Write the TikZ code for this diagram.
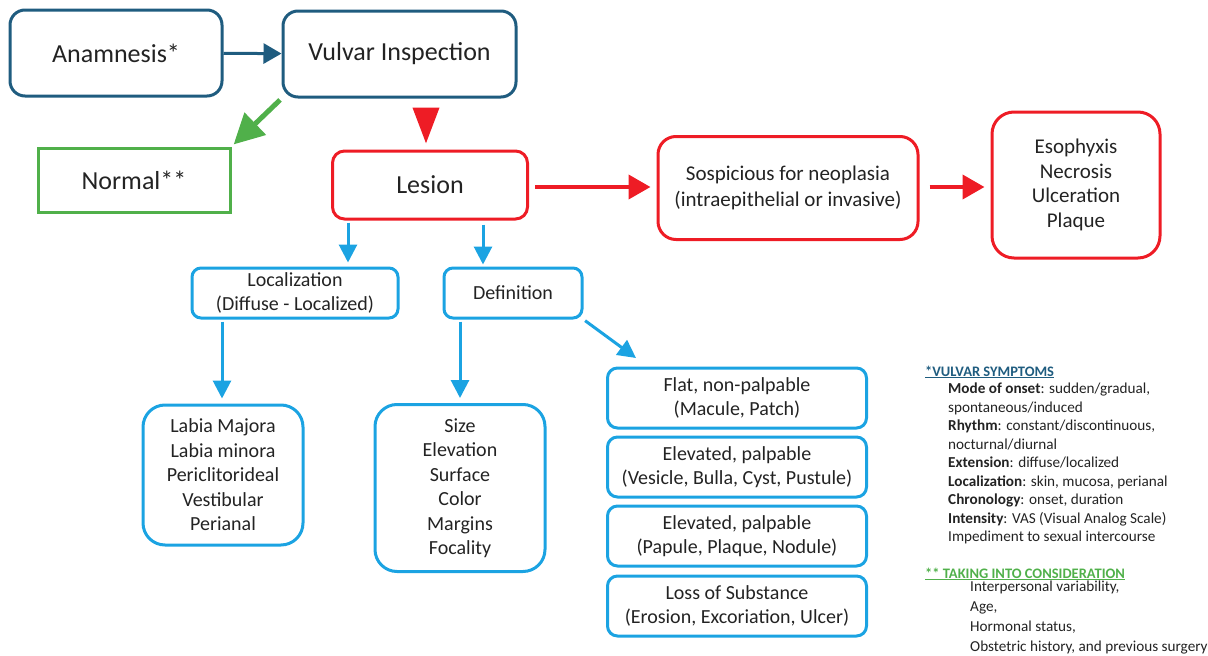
\documentclass[tikz,border=0pt]{standalone}
\usepackage{fontspec}
\setmainfont{Carlito}
\usetikzlibrary{arrows.meta}

\definecolor{inkblue}{RGB}{31,92,127}
\definecolor{okgreen}{RGB}{80,176,74}
\definecolor{alertred}{RGB}{238,28,37}
\definecolor{skyblue}{RGB}{27,163,226}
\definecolor{textgray}{RGB}{35,35,35}

\tikzset{
  box/.style={draw, line width=3pt, align=center, text=textgray, inner sep=0pt},
  bigfont/.style={font=\fontsize{26}{30}\selectfont},
  midfont/.style={font=\fontsize{21}{26}\selectfont},
  smallfont/.style={font=\fontsize{20}{24.5}\selectfont},
  notefont/.style={font=\fontsize{15.2}{18.5}\selectfont},
  headfont/.style={font=\fontsize{14.5}{18.5}\selectfont\bfseries},
  darkarrow/.style={inkblue, line width=3pt, -{Triangle[length=18pt,width=20pt]}},
  greenarrow/.style={okgreen, line width=5pt, -{Triangle[length=30pt,width=30pt]}},
  redarrow/.style={alertred, line width=4pt, -{Triangle[length=22pt,width=24pt]}},
  bluearrow/.style={skyblue, line width=3pt, -{Triangle[length=18pt,width=18pt]}},
}

\begin{document}
\begin{tikzpicture}[x=1pt, y=-1pt]
    \useasboundingbox (0,0) rectangle (1208,656);

    % top row
    \node[box, bigfont, draw=inkblue, rounded corners=15pt, minimum width=212pt, minimum height=86pt] (anam) at (116,53) {Anamnesis*};
    \node[box, bigfont, draw=inkblue, rounded corners=15pt, minimum width=233pt, minimum height=86pt] (vulv) at (399.5,54) {Vulvar Inspection};
    \draw[darkarrow] (anam) -- (vulv);

    \node[box, bigfont, draw=okgreen, minimum width=192pt, minimum height=64pt] (normal) at (134,180) {Normal**};
    \draw[greenarrow, shorten <=2pt, shorten >=3pt] (vulv.south west) -- (normal.north east);

    % lesion branch
    \node[box, bigfont, draw=alertred, rounded corners=12pt, minimum width=195pt, minimum height=68pt] (lesion) at (430,185) {Lesion};
    \draw[alertred, line width=4pt, -{Triangle[length=36pt,width=26pt]}, shorten <=10pt, shorten >=6pt] (vulv.south -| 426,0) -- (lesion.north -| 426,0);

    \node[box, midfont, draw=alertred, rounded corners=18pt, minimum width=260pt, minimum height=103pt] (susp) at (788,188) {Sospicious for neoplasia\\(intraepithelial or invasive)};
    \node[box, font=\fontsize{21}{24.7}\selectfont, draw=alertred, rounded corners=22pt, minimum width=168pt, minimum height=146pt] (signs) at (1076,185) {Esophyxis\\Necrosis\\Ulceration\\Plaque};
    \draw[redarrow, shorten <=6pt, shorten >=6pt] (lesion.east |- 0,187) -- (susp.west |- 0,187);
    \draw[redarrow, shorten <=10pt, shorten >=6pt] (susp.east |- 0,187) -- (signs.west |- 0,187);

    % localization and definition
    \node[box, smallfont, draw=skyblue, rounded corners=9pt, minimum width=206pt, minimum height=50pt] (locz) at (295,293) {Localization\\(Diffuse - Localized)};
    \node[box, smallfont, draw=skyblue, rounded corners=9pt, minimum width=138pt, minimum height=50pt] (defn) at (513,293) {Definition};
    \draw[bluearrow, shorten <=2pt, shorten >=4pt] (lesion.south -| 348,0) -- (locz.north -| 348,0);
    \draw[bluearrow, shorten <=4pt, shorten >=2pt] (lesion.south -| 483,0) -- (defn.north -| 483,0);

    \node[box, smallfont, draw=skyblue, rounded corners=22pt, minimum width=160pt, minimum height=140pt] (sites) at (223,475) {Labia Majora\\Labia minora\\Periclitorideal\\Vestibular\\Perianal};
    \node[box, smallfont, draw=skyblue, rounded corners=22pt, minimum width=170pt, minimum height=167pt] (feats) at (460,488) {Size\\Elevation\\Surface\\Color\\Margins\\Focality};
    \draw[bluearrow, shorten <=2pt, shorten >=5pt] (locz.south -| 222,0) -- (sites.north -| 222,0);
    \draw[bluearrow, shorten <=2pt, shorten >=5pt] (defn.south -| 460,0) -- (feats.north -| 460,0);

    % kinds of lesion
    \node[box, smallfont, draw=skyblue, rounded corners=10pt, minimum width=259pt, minimum height=60pt] (flat) at (737,398) {Flat, non-palpable\\(Macule, Patch)};
    \node[box, smallfont, draw=skyblue, rounded corners=10pt, minimum width=259pt, minimum height=60pt] (elev1) at (737,467) {Elevated, palpable\\(Vesicle, Bulla, Cyst, Pustule)};
    \node[box, smallfont, draw=skyblue, rounded corners=10pt, minimum width=259pt, minimum height=60pt] (elev2) at (737,536) {Elevated, palpable\\(Papule, Plaque, Nodule)};
    \node[box, smallfont, draw=skyblue, rounded corners=10pt, minimum width=259pt, minimum height=60pt] (loss) at (737,606) {Loss of Substance\\(Erosion, Excoriation, Ulcer)};
    \coordinate (flattip) at (636,358);
    \draw[bluearrow, shorten <=2pt] (defn.south east) -- (flattip);

    % notes
    \node[headfont, text=inkblue, anchor=base west, inner sep=0pt] (symhead) at (925,376) {\underline{*VULVAR SYMPTOMS}};
    \node[notefont, text=textgray, anchor=north west, align=left, inner sep=0pt] (symlist) at (948,383) {\textbf{Mode of onset}: sudden/gradual,\\spontaneous/induced\\\textbf{Rhythm}: constant/discontinuous,\\nocturnal/diurnal\\\textbf{Extension}: diffuse/localized\\\textbf{Localization}: skin, mucosa, perianal\\\textbf{Chronology}: onset, duration\\\textbf{Intensity}: VAS (Visual Analog Scale)\\Impediment to sexual intercourse};
    \node[headfont, text=okgreen, anchor=base west, inner sep=0pt] (conshead) at (925,578) {\underline{** TAKING INTO CONSIDERATION}};
    \node[notefont, font=\fontsize{15.2}{19.8}\selectfont, text=textgray, anchor=north west, align=left, inner sep=0pt] (conslist) at (970,581) {Interpersonal variability,\\Age,\\Hormonal status,\\Obstetric history, and previous surgery};
\end{tikzpicture}
\end{document}
